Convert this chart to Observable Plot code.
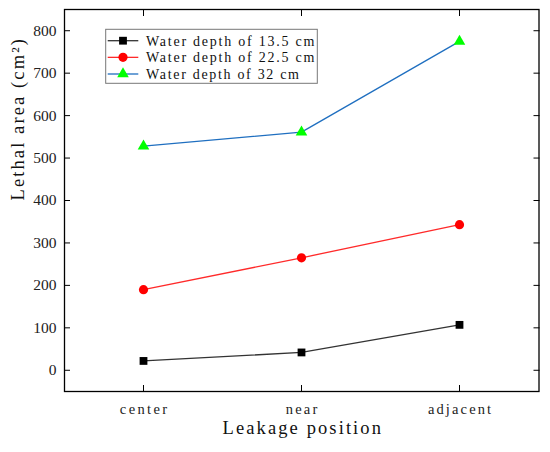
<!DOCTYPE html>
<html>
<head>
<meta charset="utf-8">
<script src="https://cdn.jsdelivr.net/npm/d3@7"></script>
<script src="https://cdn.jsdelivr.net/npm/@observablehq/plot@0.6"></script>
<style>
  html, body { margin: 0; padding: 0; background: #fff; }
  #wrap { position: relative; width: 550px; height: 452px; }
  #legend { position: absolute; left: 0; top: 0; pointer-events: none; }
  #wrap svg text { font-family: 'Liberation Serif', 'DejaVu Serif', serif !important; }
</style>
</head>
<body>
<div id="wrap"></div>
<script>
// ---- data ----
const positions = ["center", "near", "adjacent"];
const seriesNames = ["Water depth of 13.5 cm", "Water depth of 22.5 cm", "Water depth of 32 cm"];
const depth135 = [22, 42, 107];
const depth225 = [190, 265, 343];
const depth32 = [528, 561, 775];
const yTicks = [0, 100, 200, 300, 400, 500, 600, 700, 800];
const xLabel = "Leakage position";
const yLabel = "Lethal area (cm²)";

// ---- styles ----
const lineColors = ["#333333", "#ff2a2a", "#1f6fc0"];
const markerColors = ["#000000", "#ff0000", "#00ff00"];
const markerSymbols = ["square", "circle", "triangle"];
const markerR = [4.4, 4.6, 4.3];

const seriesValues = [depth135, depth225, depth32];
const rows = [];
seriesValues.forEach((vals, si) => {
  vals.forEach((v, i) => rows.push({series: seriesNames[si], si, position: positions[i], value: v}));
});

const serifFont = "'Liberation Serif', 'DejaVu Serif', serif";

const chart = Plot.plot({
  width: 550,
  height: 452,
  marginLeft: 64,
  marginRight: 11.5,
  marginTop: 9,
  marginBottom: 61,
  style: {background: "#fff", color: "#000", overflow: "visible", fontFamily: serifFont},
  x: {type: "point", domain: positions, padding: 0.5, align: 0.5},
  y: {domain: [-50, 850]},
  marks: [
    Plot.frame({stroke: "#000", strokeWidth: 1.3}),
    Plot.axisX({anchor: "bottom", tickSize: -6, tickPadding: 18, fontSize: 14.5, fill: "#222", label: null}),
    Plot.axisX({anchor: "top", tickSize: -6, tickFormat: () => "", label: null}),
    Plot.axisY({anchor: "left", ticks: yTicks, tickSize: -6, tickPadding: 14, fontSize: 15.5, fill: "#222", label: null}),
    Plot.axisY({anchor: "right", ticks: yTicks, tickSize: -6, tickFormat: () => "", label: null}),
    ...seriesNames.map((name, si) =>
      Plot.line(rows.filter(d => d.si === si), {x: "position", y: "value", stroke: lineColors[si], strokeWidth: 1.3})
    ),
    ...seriesNames.map((name, si) =>
      Plot.dot(rows.filter(d => d.si === si), {x: "position", y: "value", symbol: () => markerSymbols[si], fill: markerColors[si], stroke: "none", r: markerR[si]})
    ),
    Plot.text([xLabel], {text: d => d, frameAnchor: "bottom", dy: 42, fontSize: 18.5, fill: "#111", className: "mono-x-title"}),
    Plot.text([yLabel], {text: d => d, frameAnchor: "left", dx: -46, rotate: -90, fontSize: 18.5, fill: "#111", className: "mono-y-title"})
  ]
});

const wrap = document.getElementById("wrap");
wrap.appendChild(chart);

// emulate half-width monospaced serif (SimSun-like) widths per character
function monoFit(sel, perChar) {
  sel.each(function() {
    const t = this.textContent;
    if (!t) return;
    this.setAttribute("textLength", (t.length * perChar).toFixed(1));
    this.setAttribute("lengthAdjust", "spacing");
  });
}
monoFit(d3.select(chart).selectAll("g[aria-label='x-axis tick label'] text"), 7.9);
monoFit(d3.select(chart).selectAll("g.mono-x-title text"), 9.9);
monoFit(d3.select(chart).selectAll("g.mono-y-title text"), 9.5);

// ---- legend overlay ----
const lg = d3.select(wrap).append("svg")
  .attr("id", "legend")
  .attr("width", 550).attr("height", 452);

const box = {x: 105.7, y: 29.3, w: 211.6, h: 54};
lg.append("rect")
  .attr("x", box.x).attr("y", box.y).attr("width", box.w).attr("height", box.h)
  .attr("fill", "#fff").attr("stroke", "#777").attr("stroke-width", 1);

const rowY = i => 40.7 + i * 16.65;
const symMap = {square: d3.symbolSquare, circle: d3.symbolCircle, triangle: d3.symbolTriangle};
seriesNames.forEach((name, i) => {
  const y = rowY(i);
  lg.append("line").attr("x1", 107.7).attr("x2", 138.3).attr("y1", y).attr("y2", y)
    .attr("stroke", lineColors[i]).attr("stroke-width", 1.3);
  lg.append("path")
    .attr("d", d3.symbol(symMap[markerSymbols[i]], Math.PI * markerR[i] * markerR[i])())
    .attr("transform", `translate(123,${y})`)
    .attr("fill", markerColors[i]);
  lg.append("text").attr("x", 146).attr("y", y).attr("dy", "0.35em")
    .attr("font-size", 14).attr("fill", "#111")
    .attr("textLength", (name.length * 7.65).toFixed(1))
    .attr("lengthAdjust", "spacing")
    .text(name);
});
</script>
</body>
</html>
